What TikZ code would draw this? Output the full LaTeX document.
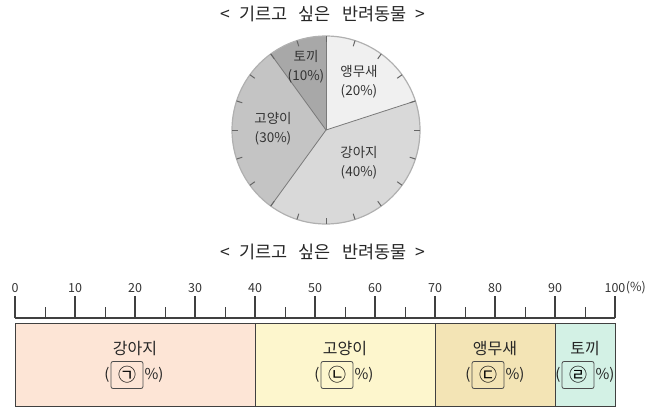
\documentclass[tikz,border=0pt]{standalone}
\usepackage{fontspec}
\setmainfont{Noto Sans CJK KR}
\usetikzlibrary{positioning}

\definecolor{rimgray}{HTML}{B0B0B0}
\definecolor{cutgray}{HTML}{7A7A7A}
\definecolor{axisgray}{HTML}{404040}
\definecolor{dogfill}{HTML}{FDE5D6}
\definecolor{catfill}{HTML}{FDF6CD}
\definecolor{birdfill}{HTML}{F3E4B5}
\definecolor{rabbitfill}{HTML}{D3F1E5}
\newcommand{\petstitle}{<\hspace{9pt}기르고\hspace{11pt}싶은\hspace{11pt}반려동물\hspace{9pt}>}

\begin{document}
\begin{tikzpicture}[x=1pt,y=-1pt,
        title/.style={font=\fontsize{17.5}{19}\selectfont, text=black!85},
        pielabel/.style={align=center, font=\fontsize{13.5}{19}\selectfont, text=black!80},
        slice/.style={draw=cutgray, line width=0.8pt},
        tickmark/.style={draw=black!60, line width=1pt},
        scalenum/.style={font=\fontsize{12.5}{14}\selectfont, text=black!80, inner sep=0pt},
        segment/.style={draw=axisgray, line width=1pt},
        barname/.style={font=\fontsize{16}{18}\selectfont, text=black!85},
        blank/.style={draw=black!70, line width=0.8pt, rounded corners=2pt, minimum width=32pt, minimum height=27pt, inner sep=0pt, font=\fontsize{18}{20}\selectfont},
        paren/.style={font=\fontsize{15}{17}\selectfont, text=black!85, inner sep=1pt}]
    \useasboundingbox (0,0) rectangle (659,415);

    % pie chart
    \node[title] (title1) at (323,14) {\petstitle};
    \begin{scope}[shift={(326,130)}, y=1pt]
        \fill[black!6] (0,0) -- (90:94) arc (90:18:94) -- cycle;
        \fill[black!15] (0,0) -- (18:94) arc (18:-126:94) -- cycle;
        \fill[black!23] (0,0) -- (-126:94) arc (-126:-234:94) -- cycle;
        \fill[black!34] (0,0) -- (126:94) arc (126:90:94) -- cycle;
        \draw[rimgray, line width=1.2pt] (0,0) circle (94);
        \foreach \a in {90,18,-126,126}
            \draw[slice] (0,0) -- (\a:94);
        \foreach \a in {0,18,...,342}
            \draw[tickmark] (90-\a:94) -- (90-\a:88);
    \end{scope}
    \node[pielabel] (bird) at (359,82) {앵무새\\(20\%)};
    \node[pielabel] (dog) at (359,163) {강아지\\(40\%)};
    \node[pielabel] (cat) at (273,129) {고양이\\(30\%)};
    \node[pielabel] (rabbit) at (306,67) {토끼\\(10\%)};

    % bar chart
    \node[title] (title2) at (323,252) {\petstitle};
    \draw[axisgray, line width=1.2pt] (15,318) -- (615,318);
    \foreach \p in {0,10,...,100}{
        \draw[axisgray, line width=1.2pt] (15+6*\p,318) -- (15+6*\p,296);
        \node[scalenum] (n\p) at (15+6*\p,288) {\p};
    }
    \foreach \p in {5,15,...,95}
        \draw[axisgray, line width=1pt] (15+6*\p,318) -- (15+6*\p,307);
    \node[scalenum, anchor=west] (unit) at (n100.east) {(\%)};

    \draw[segment, fill=dogfill] (15,323) rectangle (255,406);
    \draw[segment, fill=catfill] (255,323) rectangle (435,406);
    \draw[segment, fill=birdfill] (435,323) rectangle (555,406);
    \draw[segment, fill=rabbitfill] (555,323) rectangle (615,406);

    \node[barname] (dogname) at (135,349) {강아지};
    \node[blank] (a) at (127,375) {㉠};
    \node[paren, anchor=east] at (a.west) {(};
    \node[paren, anchor=west] at (a.east) {\%)};

    \node[barname] (catname) at (345,349) {고양이};
    \node[blank] (b) at (337,375) {㉡};
    \node[paren, anchor=east] at (b.west) {(};
    \node[paren, anchor=west] at (b.east) {\%)};

    \node[barname] (birdname) at (495,349) {앵무새};
    \node[blank] (c) at (488,375) {㉢};
    \node[paren, anchor=east] at (c.west) {(};
    \node[paren, anchor=west] at (c.east) {\%)};

    \node[barname] (rabbitname) at (585,349) {토끼};
    \node[blank] (d) at (578,375) {㉣};
    \node[paren, anchor=east] at (d.west) {(};
    \node[paren, anchor=west] at (d.east) {\%)};
\end{tikzpicture}
\end{document}
